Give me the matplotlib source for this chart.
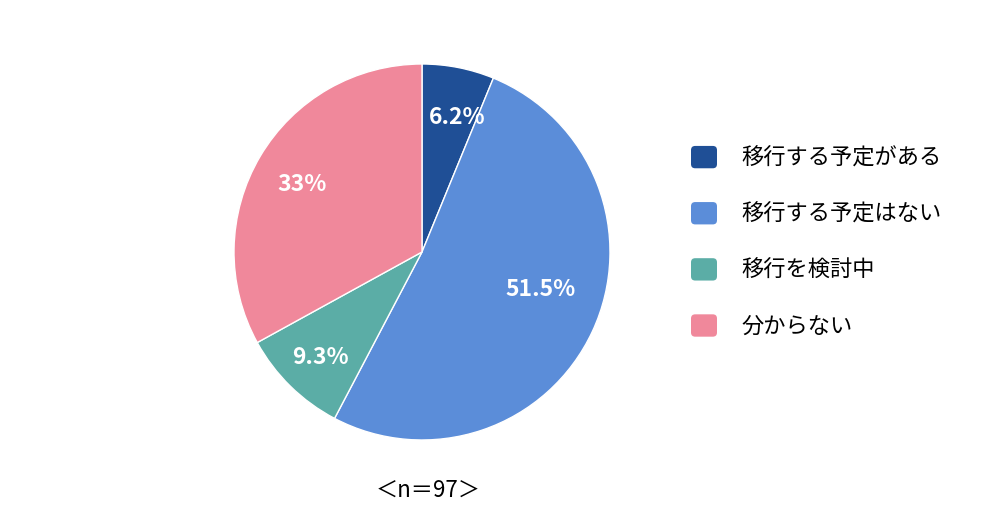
import numpy as np
import matplotlib.pyplot as plt
from matplotlib.patches import Patch, FancyBboxPatch
from matplotlib.legend_handler import HandlerPatch

plt.rcParams['font.family'] = ['Noto Sans CJK JP', 'DejaVu Sans']

labels = ['移行する予定がある', '移行する予定はない', '移行を検討中', '分からない']
values = [6.2, 51.5, 9.3, 33]
pct_text = ['6.2%', '51.5%', '9.3%', '33%']
colors = ['#1f4f96', '#5b8dd9', '#5bada6', '#f0889b']
# label placement (radius, angle in deg) inside each slice
label_pos = [(0.74, 75.5), (0.66, -17.4), (0.78, -134.0), (0.73, 150.6)]


class RoundHandler(HandlerPatch):
    def create_artists(self, legend, orig_handle, xdescent, ydescent,
                       width, height, fontsize, trans):
        p = FancyBboxPatch((-xdescent, -ydescent), width, height,
                           boxstyle='round,pad=0,rounding_size=3',
                           fc=orig_handle.get_facecolor(), ec='none',
                           transform=trans)
        return [p]


fig = plt.figure(figsize=(10, 5.14), dpi=100)
ax = fig.add_axes([0.234, 0.144, 0.376, 0.7315])
wedges, _ = ax.pie(values, colors=colors, startangle=90, counterclock=False,
                   radius=1, wedgeprops=dict(edgecolor='white', linewidth=1))
ax.set_xlim(-1, 1)
ax.set_ylim(-1, 1)
ax.set_aspect('equal')

for t, (r, a) in zip(pct_text, label_pos):
    ang = np.deg2rad(a)
    ax.text(r * np.cos(ang), r * np.sin(ang), t, ha='center', va='center',
            color='white', fontsize=16.5, fontweight='bold')

handles = [Patch(facecolor=c) for c in colors]
fig.legend(handles, labels, loc='upper left', bbox_to_anchor=(0.671, 0.755),
           frameon=False, fontsize=16, handlelength=1.17, handleheight=1.17,
           handletextpad=1.1, labelspacing=1.46,
           handler_map={Patch: RoundHandler()})

fig.text(0.428, 0.047, '＜n＝97＞', ha='center', va='center', fontsize=16)

fig.savefig('out.png', dpi=100)
